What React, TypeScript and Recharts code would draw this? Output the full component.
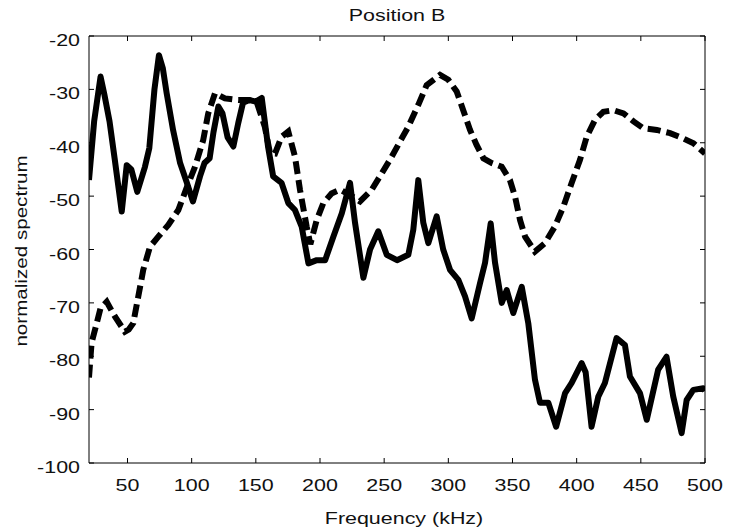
import { Line, LineChart, XAxis, YAxis } from "recharts";

const xTicks = [50, 100, 150, 200, 250, 300, 350, 400, 450, 500];
const yTicks = [-100, -90, -80, -70, -60, -50, -40, -30, -20];

// solid trace
const solidFreq = [
	20, 24, 29, 32, 36, 40, 45.5, 49.4, 53, 57.6, 63.6, 67, 71, 74.5, 77.5, 80.5, 85.5, 91, 96, 101, 106.5, 110, 114, 117,
	120.8, 124, 128, 132.5, 136.3, 140, 145, 150, 154.6, 159.5, 163.5, 170, 175.3, 180.5, 185.7, 191, 197.5, 204, 210.4, 217,
	223.4, 227.3, 233.8, 239, 245.4, 252, 260, 268.8, 272.7, 276.6, 280.5, 284.4, 290.9, 296, 301.3, 307.8, 313, 318.2, 324.7,
	328.6, 333, 336.4, 341.6, 345.5, 350.6, 357.2, 362.3, 367.5, 371.4, 377.9, 384, 391, 396.1, 403.9, 407, 411.6, 416.8, 422,
	431.1, 437.6, 441.5, 449.3, 454.6, 463.5, 470, 475.2, 481.8, 485.7, 490.9, 498.7, 500,
];
const solidLevel = [
	-47, -36, -27.6, -31, -36, -43, -52.9, -44.2, -45, -49.2, -44.5, -41, -30, -23.6, -26, -30.7, -37.6, -43.8, -47.3, -51,
	-46.3, -43.8, -42.9, -38, -33.2, -34.5, -39, -40.7, -36.3, -32.5, -32, -32.3, -31.6, -40.7, -46.3, -47.5, -51.3, -52.6,
	-55.7, -62.6, -62, -62, -57.6, -53.2, -47.5, -55, -65.3, -60, -56.6, -61, -62, -61, -56.3, -47, -55, -58.8, -53.8, -60,
	-63.8, -65.7, -68.8, -72.9, -66.3, -62.5, -55.1, -62.5, -70, -67.6, -71.9, -67, -73.8, -84.4, -88.7, -88.7, -93.2, -86.9,
	-85, -81.3, -83, -93.2, -87.6, -85, -76.6, -77.9, -83.8, -86.9, -91.9, -82.5, -80.1, -87.5, -94.4, -88.2, -86.3, -86,
	-86.5,
];

// dashed trace
const dashedFreq = [
	20, 22, 26, 29, 33.8, 40.3, 48, 51, 54.5, 58.4, 62.3, 67.5, 74, 81.8, 89.6, 96, 102.6, 109, 112.9, 118.2, 125.9, 136.3,
	145, 151, 157, 161, 165, 170, 175.3, 180.5, 184.4, 189.6, 192.5, 197.4, 202.6, 209, 215.6, 223.4, 231.2, 240.3, 246.7,
	254.5, 262.3, 268.8, 276.6, 283.1, 293.5, 300, 306.5, 311.6, 316.9, 322, 327.3, 333.8, 341.6, 348, 352, 355.9, 359.8,
	367.5, 375.3, 383, 389.6, 396, 402.6, 407.8, 414.3, 420.8, 428.6, 436.5, 444.3, 452, 462.5, 472.8, 483.1, 491, 500,
];
const dashedLevel = [
	-84, -77.5, -73.8, -71, -69.8, -72.6, -75.4, -75, -73.8, -68.8, -63.8, -59.5, -57.6, -55.4, -52.6, -48.5, -44.5, -39.5,
	-34.5, -30.7, -31.7, -32, -32, -32.6, -37, -41.9, -42, -38.9, -37.9, -42.6, -48.8, -55.7, -59, -54.5, -51.3, -49.5, -48.8,
	-49.8, -51, -48.8, -46.3, -43.2, -39.8, -37, -32.9, -29.2, -27.3, -28.2, -30.4, -33.9, -37.6, -40.4, -42.9, -43.8, -44.5,
	-47, -50.1, -54.5, -57.6, -60.4, -58.8, -55.7, -52, -47.6, -43.2, -38.9, -35.7, -34.2, -33.9, -34.5, -36, -37.3, -37.6,
	-38.2, -39.2, -40.1, -42,
];

const solidData = solidFreq.map((f, i) => ({ f, v: solidLevel[i] }));
const dashedData = dashedFreq.map((f, i) => ({ f, v: dashedLevel[i] }));

const FONT = "'Liberation Sans', Arial, sans-serif";
const FS = 16.5;
const STRETCH = 1.3;

const BottomTick = (props: any) => {
	const { x, y, payload } = props;
	return (
		<g>
			<line x1={x} y1={y} x2={x} y2={y - 5} stroke="#000" />
			<g transform={`translate(${x},${y + 28}) scale(${STRETCH},1)`}>
				<text textAnchor="middle" fontSize={FS} fontFamily={FONT} fill="#111">
					{payload.value}
				</text>
			</g>
		</g>
	);
};

const TopTick = (props: any) => {
	const { x, y } = props;
	return <line x1={x} y1={y} x2={x} y2={y + 5} stroke="#000" />;
};

const LeftTick = (props: any) => {
	const { x, y, payload } = props;
	return (
		<g>
			<line x1={x} y1={y} x2={x + 5} y2={y} stroke="#000" />
			<g transform={`translate(${x - 9},${y + 10}) scale(${STRETCH},1)`}>
				<text textAnchor="end" fontSize={FS} fontFamily={FONT} fill="#111">
					{payload.value}
				</text>
			</g>
		</g>
	);
};

const RightTick = (props: any) => {
	const { x, y } = props;
	return <line x1={x} y1={y} x2={x - 5} y2={y} stroke="#000" />;
};

export default function App() {
	return (
		<div style={{ position: "absolute", left: 0, top: 0, width: 732, height: 530, background: "#fff" }}>
			<LineChart width={732} height={530} margin={{ top: 0, right: 0, bottom: 0, left: 0 }}>
				<XAxis
					xAxisId="bottom"
					type="number"
					dataKey="f"
					domain={[20, 500]}
					ticks={xTicks}
					interval={0}
					allowDataOverflow
					height={67}
					tickSize={0}
					tickMargin={0}
					tickLine={false}
					axisLine={{ stroke: "#000" }}
					tick={<BottomTick />}
				/>
				<XAxis
					xAxisId="top"
					orientation="top"
					type="number"
					dataKey="f"
					domain={[20, 500]}
					ticks={xTicks}
					interval={0}
					allowDataOverflow
					height={36}
					tickSize={0}
					tickMargin={0}
					tickLine={false}
					axisLine={{ stroke: "#000" }}
					tick={<TopTick />}
				/>
				<YAxis
					yAxisId="left"
					type="number"
					domain={[-100, -20]}
					ticks={yTicks}
					interval={0}
					allowDataOverflow
					width={89}
					tickSize={0}
					tickMargin={0}
					tickLine={false}
					axisLine={{ stroke: "#000" }}
					tick={<LeftTick />}
				/>
				<YAxis
					yAxisId="right"
					orientation="right"
					type="number"
					domain={[-100, -20]}
					ticks={yTicks}
					interval={0}
					allowDataOverflow
					width={27}
					tickSize={0}
					tickMargin={0}
					tickLine={false}
					axisLine={{ stroke: "#000" }}
					tick={<RightTick />}
				/>
				<Line
					xAxisId="bottom"
					yAxisId="left"
					data={dashedData}
					dataKey="v"
					type="linear"
					stroke="#000"
					strokeWidth={6}
					strokeDasharray="13 6"
					dot={false}
					isAnimationActive={false}
				/>
				<Line
					xAxisId="bottom"
					yAxisId="left"
					data={solidData}
					dataKey="v"
					type="linear"
					stroke="#000"
					strokeWidth={6}
					strokeLinejoin="round"
					dot={false}
					isAnimationActive={false}
				/>
			</LineChart>
			<svg width={732} height={530} style={{ position: "absolute", left: 0, top: 0, pointerEvents: "none" }}>
				<g transform={`translate(397,21) scale(${STRETCH},1)`}>
					<text textAnchor="middle" fontSize={FS} fontFamily={FONT} fill="#111">
						Position B
					</text>
				</g>
				<g transform={`translate(404,524) scale(${STRETCH},1)`}>
					<text textAnchor="middle" fontSize={FS} fontFamily={FONT} fill="#111">
						Frequency (kHz)
					</text>
				</g>
				<g transform="translate(27,251) rotate(-90) scale(1.25,1)">
					<text textAnchor="middle" fontSize={FS} fontFamily={FONT} fill="#111">
						normalized spectrum
					</text>
				</g>
			</svg>
		</div>
	);
}
